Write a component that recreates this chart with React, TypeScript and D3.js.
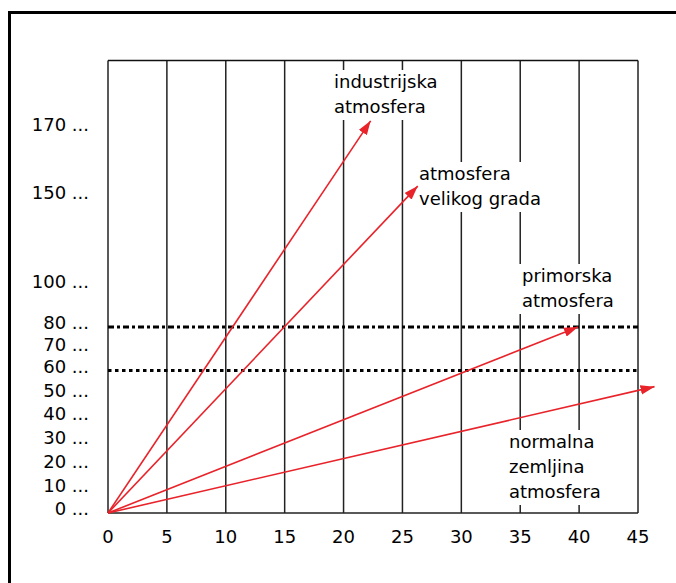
import { useEffect, useRef } from "react"
import * as d3 from "d3"

// x axis ticks (every 5 units)
const xTicks = [0, 5, 10, 15, 20, 25, 30, 35, 40, 45]
// y axis labels (the scale is not linear in the source)
const yTicks = [0, 10, 20, 30, 40, 50, 60, 70, 80, 100, 150, 170]
const yBreaks = [0, 60, 80, 100, 150, 170]

// reference lines
const dashDotLevel = 80
const dottedLevel = 60

// arrow end points [x, y] from the origin
const arrowNames = ["industrijska", "velikog grada", "primorska", "normalna"]
const arrowX = [22.3, 26.3, 39.9, 46.4]
const arrowY = [172.4, 153.2, 80, 53.2]

// annotation texts
const labelLines = [
  ["industrijska", "atmosfera"],
  ["atmosfera", "velikog grada"],
  ["primorska", "atmosfera"],
  ["normalna", "zemljina", "atmosfera"],
]

const RED = "#e8232a"
const FONT = "'DejaVu Sans', sans-serif"

export default function App() {
  const svgRef = useRef<SVGSVGElement>(null)

  useEffect(() => {
    const svg = d3.select(svgRef.current)
    svg.selectAll("*").remove()

    const width = 676
    const height = 583
    const left = 108
    const right = 638
    const top = 60.5
    const bottom = 513

    svg.attr("width", width).attr("height", height)

    const x = d3.scaleLinear().domain([0, 45]).range([left, right])
    const y = d3
      .scaleLinear()
      .domain(yBreaks)
      .range([bottom, 370.5, 327, 286, 197, 129])

    svg
      .append("defs")
      .append("marker")
      .attr("id", "head")
      .attr("markerUnits", "userSpaceOnUse")
      .attr("viewBox", "-14 -5 15 10")
      .attr("markerWidth", 15)
      .attr("markerHeight", 10)
      .attr("refX", 0)
      .attr("refY", 0)
      .attr("orient", "auto")
      .append("path")
      .attr("d", "M0,0 L-14,-4.8 L-14,4.8 Z")
      .attr("fill", RED)

    // outer frame (runs off the right and bottom edge)
    svg
      .append("rect")
      .attr("x", 9.5)
      .attr("y", 12.5)
      .attr("width", 700)
      .attr("height", 620)
      .attr("fill", "none")
      .attr("stroke", "#000")
      .attr("stroke-width", 3)

    // vertical grid lines
    svg
      .append("g")
      .selectAll("line")
      .data(xTicks)
      .join("line")
      .attr("x1", (d) => x(d))
      .attr("x2", (d) => x(d))
      .attr("y1", top)
      .attr("y2", bottom)
      .attr("stroke", "#222")
      .attr("stroke-width", 1.5)

    svg
      .append("line")
      .attr("x1", left)
      .attr("x2", right)
      .attr("y1", top)
      .attr("y2", top)
      .attr("stroke", "#111")
      .attr("stroke-width", 1.5)
    svg
      .append("line")
      .attr("x1", left)
      .attr("x2", right)
      .attr("y1", bottom)
      .attr("y2", bottom)
      .attr("stroke", "#222")
      .attr("stroke-width", 1.5)

    // reference lines
    svg
      .append("line")
      .attr("x1", left)
      .attr("x2", right)
      .attr("y1", y(dashDotLevel))
      .attr("y2", y(dashDotLevel))
      .attr("stroke", "#000")
      .attr("stroke-width", 3)
      .attr("stroke-dasharray", "6,3,3,3")
    svg
      .append("line")
      .attr("x1", left)
      .attr("x2", right)
      .attr("y1", y(dottedLevel))
      .attr("y2", y(dottedLevel))
      .attr("stroke", "#000")
      .attr("stroke-width", 3)
      .attr("stroke-dasharray", "3.5,3.5")

    // tick labels
    svg
      .append("g")
      .selectAll("text")
      .data(yTicks)
      .join("text")
      .attr("x", 89)
      .attr("y", (d) => y(d) - 4)
      .attr("dy", "0.35em")
      .attr("text-anchor", "end")
      .attr("font-family", FONT)
      .attr("font-size", 18)
      .text((d) => `${d} ...`)

    svg
      .append("g")
      .selectAll("text")
      .data(xTicks)
      .join("text")
      .attr("x", (d) => x(d))
      .attr("y", 543)
      .attr("text-anchor", "middle")
      .attr("font-family", FONT)
      .attr("font-size", 18)
      .text((d) => d)

    // annotations with white boxes that break the grid
    const labelPos = [
      [334, 88],
      [419, 180],
      [522, 282],
      [509, 448],
    ]
    labelLines.forEach((lines, i) => {
      const g = svg.append("g")
      const box = g.append("rect").attr("fill", "#fff")
      const t = g
        .append("text")
        .attr("font-family", FONT)
        .attr("font-size", 18)
        .attr("fill", "#000")
      lines.forEach((ln, j) => {
        t.append("tspan")
          .attr("x", labelPos[i][0])
          .attr("y", labelPos[i][1] + j * 25)
          .text(ln)
      })
      const bb = (t.node() as SVGTextElement).getBBox()
      box
        .attr("x", bb.x - 4)
        .attr("y", labelPos[i][1] - 18)
        .attr("width", bb.width + 8)
        .attr("height", (lines.length - 1) * 25 + 25)
    })

    // arrows
    svg
      .append("g")
      .selectAll("line")
      .data(arrowNames)
      .join("line")
      .attr("x1", x(0))
      .attr("y1", y(0))
      .attr("x2", (_, i) => x(arrowX[i]))
      .attr("y2", (_, i) => y(arrowY[i]))
      .attr("stroke", RED)
      .attr("stroke-width", 1.6)
      .attr("marker-end", "url(#head)")
  }, [])

  return (
    <svg
      ref={svgRef}
      style={{ position: "absolute", left: 0, top: 0, display: "block", background: "#fff" }}
    ></svg>
  )
}
